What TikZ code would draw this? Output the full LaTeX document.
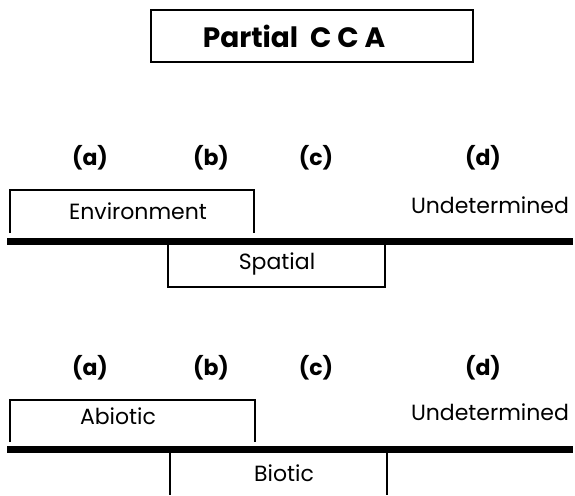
\documentclass[tikz,border=0pt]{standalone}
\usepackage{fontspec}
\setmainfont{Poppins}
\begin{document}
\begin{tikzpicture}[x=1pt,y=-1pt,
  thin line/.style={line width=1.4pt},
  thick bar/.style={line width=6.5pt},
  lbl/.style={font=\fontsize{22}{26}\selectfont\bfseries, inner sep=0pt},
  txt/.style={font=\fontsize{22}{26}\selectfont, inner sep=0pt},
  ttl/.style={font=\fontsize{28}{32}\selectfont\bfseries, inner sep=0pt}]
\useasboundingbox (0,0) rectangle (575,495);
% title
\draw[thin line] (151,10) rectangle (473,62);
\node[ttl] (title) at (294,36) {Partial\ \ C C A};
% row 1 labels
\node[lbl] (a1) at (90,158) {(a)};
\node[lbl] (b1) at (211,158) {(b)};
\node[lbl] (c1) at (316,158) {(c)};
\node[lbl] (d1) at (483,158) {(d)};
% environment box
\coordinate (e1) at (10,233);
\coordinate (e2) at (10,190);
\coordinate (e3) at (254,190);
\coordinate (e4) at (254,233);
\draw[thin line] (e1) -- (e2) -- (e3) -- (e4);
\node[txt] (env) at (138,211.5) {Environment};
\node[txt] (und1) at (490,205) {Undetermined};
% bar 1
\coordinate (bar1l) at (7,241.5);
\coordinate (bar1r) at (573,241.5);
\draw[thick bar] (bar1l) -- (bar1r);
% spatial box
\coordinate (s1) at (168,245);
\coordinate (s2) at (168,287);
\coordinate (s3) at (385,287);
\coordinate (s4) at (385,245);
\draw[thin line] (s1) -- (s2) -- (s3) -- (s4);
\node[txt] (spa) at (277,264) {Spatial};
% row 2 labels
\node[lbl] (a2) at (90,368) {(a)};
\node[lbl] (b2) at (211,368) {(b)};
\node[lbl] (c2) at (316,368) {(c)};
\node[lbl] (d2) at (483,368) {(d)};
% abiotic box
\coordinate (ab1) at (10,442);
\coordinate (ab2) at (10,400);
\coordinate (ab3) at (255,400);
\coordinate (ab4) at (255,442);
\draw[thin line] (ab1) -- (ab2) -- (ab3) -- (ab4);
\node[txt] (abio) at (118,416) {Abiotic};
\node[txt] (und2) at (490,412) {Undetermined};
% bar 2
\coordinate (bar2l) at (7,449.5);
\coordinate (bar2r) at (573,449.5);
\draw[thick bar] (bar2l) -- (bar2r);
% biotic
\coordinate (bi1) at (170,453);
\coordinate (bi2) at (170,495);
\coordinate (bi3) at (387,453);
\coordinate (bi4) at (387,495);
\draw[thin line] (bi1) -- (bi2);
\draw[thin line] (bi3) -- (bi4);
\node[txt] (bio) at (284,473) {Biotic};
\end{tikzpicture}
\end{document}
